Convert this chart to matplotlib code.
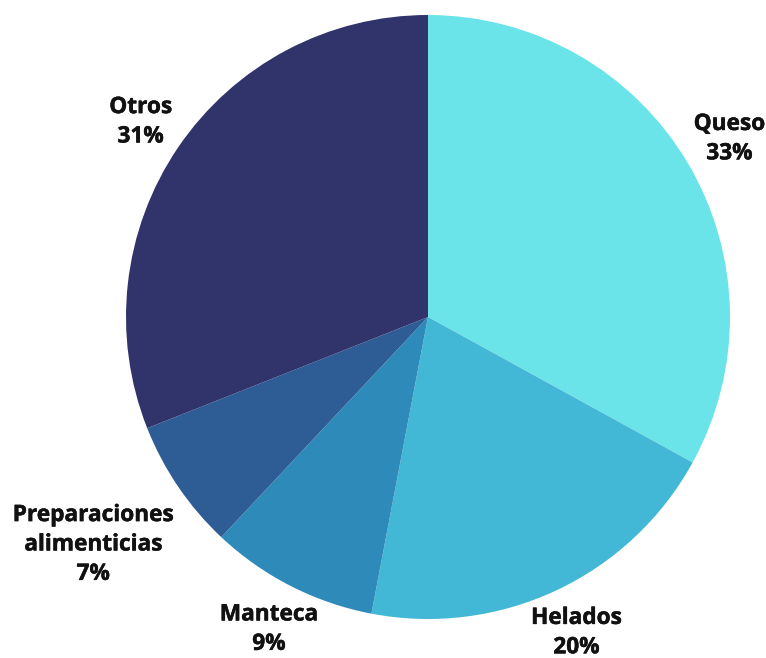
import numpy as np
import matplotlib.pyplot as plt
import matplotlib.patheffects as pe

labels = ["Queso", "Helados", "Manteca", "Preparaciones\nalimenticias", "Otros"]
values = [33, 20, 9, 7, 31]
colors = ["#6AE4E9", "#43B7D6", "#2E8BB9", "#2E5D96", "#30346B"]

plt.rcParams['font.family'] = ['Open Sans', 'DejaVu Sans']

fig = plt.figure(figsize=(7.66, 6.58), dpi=100)
# pie centre at (428, 317) px, radius 302 px
ax = fig.add_axes([(428 - 302) / 766, (658 - 317 - 302) / 658, 604 / 766, 604 / 658])

wedges, _ = ax.pie(values, colors=colors, startangle=90, counterclock=False,
                   radius=1, wedgeprops=dict(linewidth=0))
ax.set_xlim(-1, 1)
ax.set_ylim(-1, 1)
ax.set_aspect('equal')
ax.axis('off')

# label distance per slice (multi-line label sits further out)
dists = [1.16, 1.155, 1.16, 1.34, 1.15]
for w, lab, v, d in zip(wedges, labels, values, dists):
    ang = np.deg2rad((w.theta1 + w.theta2) / 2)
    x, y = d * np.cos(ang), d * np.sin(ang)
    ax.text(x, y, f"{lab}\n{v}%", ha='center', va='center', fontsize=16.3,
            fontweight='bold', color='#111111', linespacing=1.3, clip_on=False,
            path_effects=[pe.withStroke(linewidth=0.35, foreground='#111111')])

fig.savefig("out.png", dpi=100)
